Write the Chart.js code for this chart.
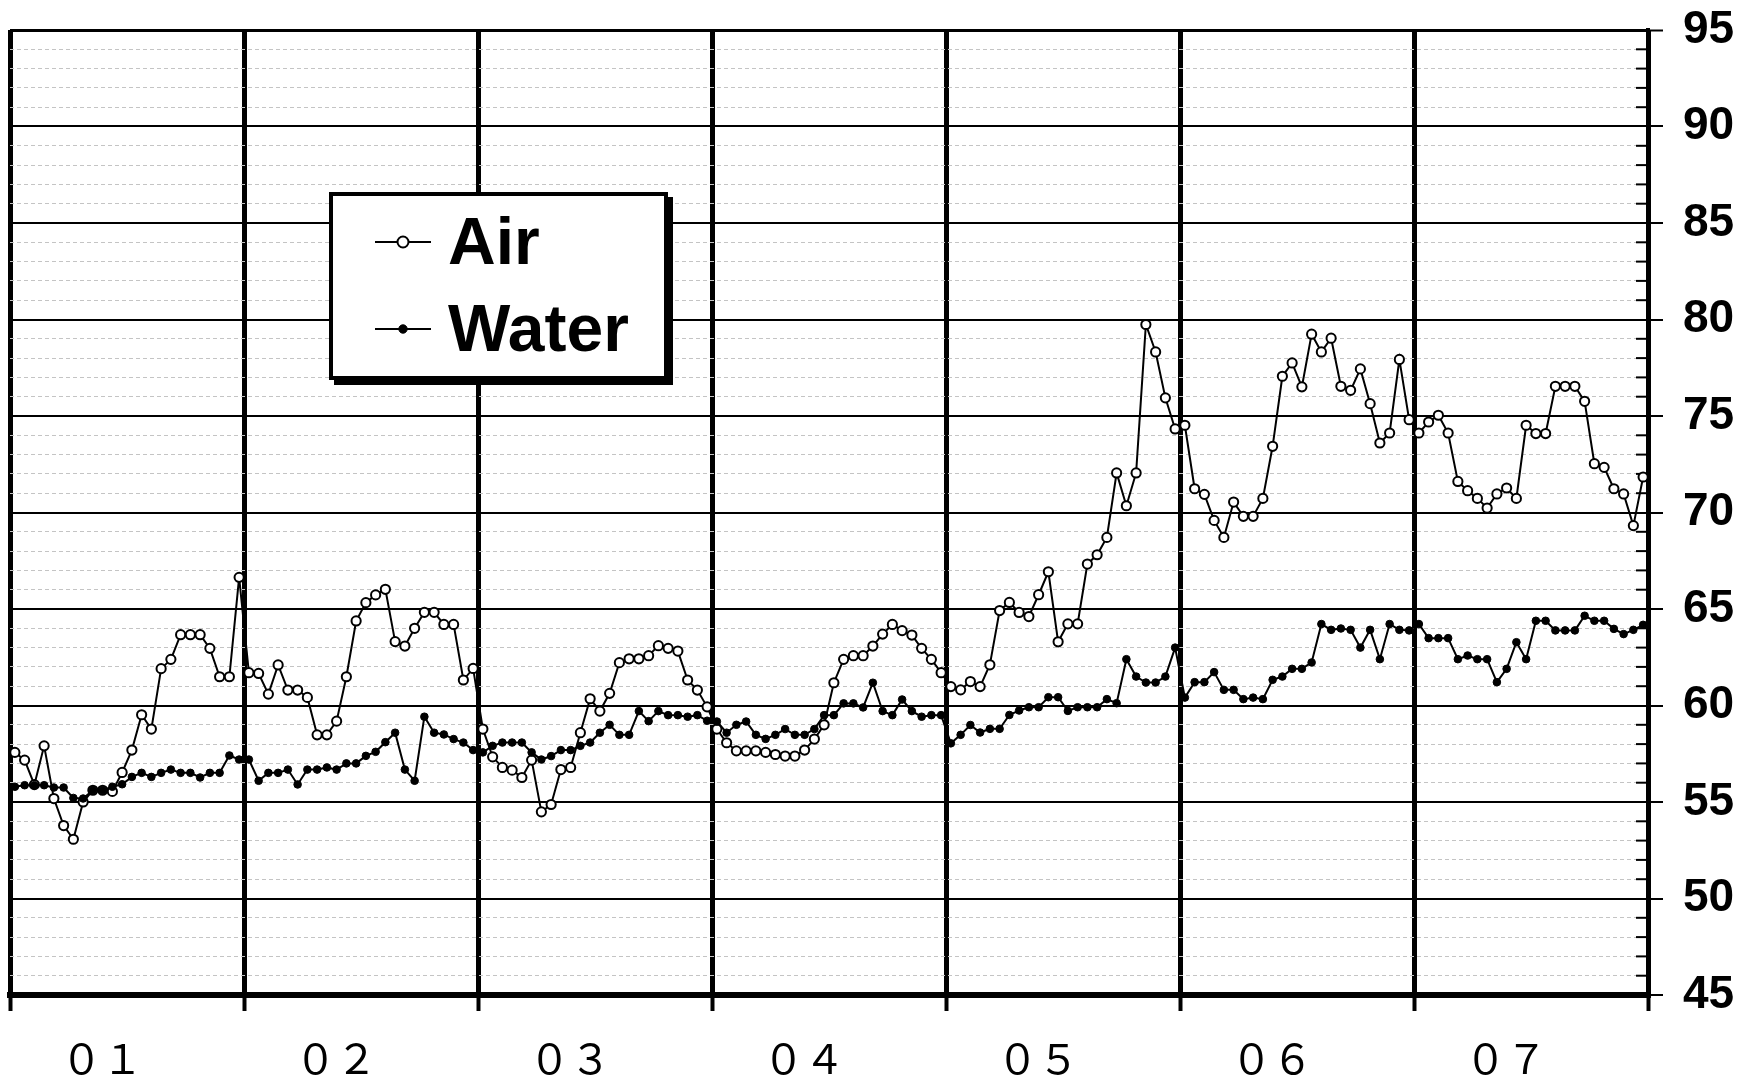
<!DOCTYPE html>
<html>
<head>
<meta charset="utf-8">
<script src="https://cdn.jsdelivr.net/npm/chart.js@4/dist/chart.umd.min.js"></script>
<style>
  html, body { margin: 0; padding: 0; background: #fff; }
  canvas { display: block; }
</style>
</head>
<body>
<canvas id="c" width="1746" height="1078"></canvas>
<script>
// ---- data ----
const monthLabels = ['０１', '０２', '０３', '０４', '０５', '０６', '０７'];
const pointsPerMonth = 24;
const seriesNames = ['Air', 'Water'];

const airTemp = [
  57.57, 57.17, 55.90, 57.91, 55.18, 53.78, 53.07, 55.00, 55.61, 55.61, 55.55, 56.53,
  57.69, 59.52, 58.78, 61.91, 62.39, 63.67, 63.67, 63.67, 62.96, 61.49, 61.49, 66.64,
  61.70, 61.66, 60.59, 62.10, 60.80, 60.80, 60.42, 58.48, 58.48, 59.19, 61.49, 64.38,
  65.33, 65.73, 66.02, 63.31, 63.08, 64.00, 64.83, 64.83, 64.20, 64.20, 61.32, 61.92,
  58.78, 57.34, 56.79, 56.65, 56.27, 57.17, 54.49, 54.87, 56.68, 56.79, 58.59, 60.35,
  59.71, 60.63, 62.22, 62.42, 62.42, 62.58, 63.10, 62.96, 62.82, 61.32, 60.80, 59.93,
  58.78, 58.07, 57.65, 57.65, 57.65, 57.57, 57.46, 57.38, 57.38, 57.69, 58.26, 59.00,
  61.18, 62.39, 62.58, 62.58, 63.08, 63.70, 64.20, 63.88, 63.65, 62.96, 62.39, 61.70,
  60.98, 60.81, 61.24, 60.98, 62.11, 64.92, 65.34, 64.82, 64.61, 65.74, 66.93, 63.30,
  64.23, 64.23, 67.33, 67.81, 68.71, 72.05, 70.35, 72.05, 79.74, 78.32, 75.94, 74.33,
  74.52, 71.23, 70.94, 69.59, 68.71, 70.54, 69.80, 69.80, 70.73, 73.43, 77.06, 77.75,
  76.51, 79.24, 78.32, 79.03, 76.54, 76.33, 77.44, 75.64, 73.60, 74.12, 77.93, 74.81,
  74.12, 74.69, 75.04, 74.12, 71.61, 71.13, 70.73, 70.23, 70.96, 71.27, 70.73, 74.52,
  74.09, 74.09, 76.54, 76.54, 76.54, 75.76, 72.53, 72.34, 71.23, 70.96, 69.32, 71.84
];

const waterTemp = [
  55.79, 55.87, 55.87, 55.87, 55.75, 55.75, 55.21, 55.18, 55.61, 55.61, 55.79, 55.92,
  56.30, 56.51, 56.30, 56.51, 56.68, 56.51, 56.51, 56.27, 56.51, 56.51, 57.41, 57.20,
  57.20, 56.10, 56.51, 56.51, 56.68, 55.91, 56.68, 56.68, 56.79, 56.68, 57.00, 57.00,
  57.39, 57.60, 58.10, 58.59, 56.68, 56.10, 59.42, 58.59, 58.50, 58.26, 58.08, 57.69,
  57.57, 57.91, 58.08, 58.08, 58.08, 57.57, 57.20, 57.38, 57.69, 57.69, 57.91, 58.08,
  58.59, 59.00, 58.48, 58.48, 59.71, 59.19, 59.71, 59.50, 59.50, 59.42, 59.50, 59.21,
  59.17, 58.59, 59.00, 59.17, 58.48, 58.27, 58.48, 58.78, 58.48, 58.48, 58.78, 59.50,
  59.50, 60.11, 60.11, 59.90, 61.18, 59.71, 59.50, 60.31, 59.71, 59.42, 59.50, 59.50,
  58.04, 58.48, 58.99, 58.60, 58.79, 58.79, 59.51, 59.74, 59.91, 59.91, 60.43, 60.43,
  59.72, 59.91, 59.91, 59.91, 60.33, 60.12, 62.40, 61.50, 61.19, 61.19, 61.50, 63.00,
  60.41, 61.21, 61.21, 61.73, 60.81, 60.81, 60.33, 60.41, 60.33, 61.33, 61.50, 61.90,
  61.90, 62.23, 64.22, 63.92, 63.99, 63.92, 63.00, 63.92, 62.40, 64.22, 63.92, 63.89,
  64.22, 63.49, 63.49, 63.49, 62.40, 62.59, 62.40, 62.40, 61.21, 61.90, 63.28, 62.40,
  64.39, 64.39, 63.89, 63.89, 63.89, 64.65, 64.39, 64.39, 63.97, 63.70, 63.92, 64.18
];

const yMin = 45, yMax = 95, yMajorStep = 5, yMinorStep = 1;

// ---- build library structures ----
const totalPoints = monthLabels.length * pointsPerMonth;
const toXY = arr => arr.map((v, i) => ({ x: i + 0.5, y: v }));
const isMajor = ctx => ctx.tick && Math.round(ctx.tick.value) % yMajorStep === 0;

// legend drawn in a framed, shadowed box inside the plot
const boxLegend = {
  id: 'boxLegend',
  afterDraw(chart) {
    const c = chart.ctx;
    const box = { x: 331, y: 194, w: 335, h: 184 };
    const rows = [242, 329];
    c.save();
    c.fillStyle = '#000';
    c.fillRect(box.x - 2 + 5, box.y - 2 + 5, box.w + 4, box.h + 4);
    c.fillStyle = '#fff';
    c.fillRect(box.x, box.y, box.w, box.h);
    c.lineWidth = 4;
    c.strokeStyle = '#000';
    c.strokeRect(box.x, box.y, box.w, box.h);
    chart.data.datasets.forEach((ds, i) => {
      const y = rows[i];
      c.beginPath();
      c.lineWidth = 2;
      c.strokeStyle = '#000';
      c.moveTo(375, y);
      c.lineTo(431, y);
      c.stroke();
      c.beginPath();
      c.arc(403, y, ds.legendRadius, 0, Math.PI * 2);
      c.fillStyle = ds.pointBackgroundColor;
      c.fill();
      c.lineWidth = ds.pointBorderWidth;
      c.stroke();
      c.fillStyle = '#000';
      c.font = 'bold 66px "Liberation Sans", Arial, sans-serif';
      c.textBaseline = 'alphabetic';
      c.textAlign = 'left';
      c.fillText(ds.label, 448, y + 22);
    });
    c.restore();
  }
};

// small inward tick marks on the right axis at every minor step
const minorTicks = {
  id: 'minorTicks',
  beforeDatasetsDraw(chart) {
    const ys = chart.scales.y, area = chart.chartArea, c = chart.ctx;
    c.save();
    c.strokeStyle = '#000';
    c.lineWidth = 2;
    ys.ticks.forEach(t => {
      if (Math.round(t.value) % yMajorStep !== 0) {
        const p = ys.getPixelForValue(t.value);
        c.beginPath();
        c.moveTo(area.right - 12, p);
        c.lineTo(area.right, p);
        c.stroke();
      }
    });
    c.restore();
  }
};

new Chart(document.getElementById('c'), {
  type: 'line',
  data: {
    datasets: [
      {
        label: seriesNames[0],
        data: toXY(airTemp),
        borderColor: '#000',
        borderWidth: 2,
        pointRadius: 4.6,
        pointBorderWidth: 2,
        pointBackgroundColor: '#fff',
        pointBorderColor: '#000',
        legendRadius: 5.5,
        tension: 0,
        order: 1,
        clip: 6
      },
      {
        label: seriesNames[1],
        data: toXY(waterTemp),
        borderColor: '#000',
        borderWidth: 2,
        pointRadius: 3.8,
        pointBorderWidth: 1,
        pointBackgroundColor: '#000',
        pointBorderColor: '#000',
        legendRadius: 4.2,
        tension: 0,
        order: 0,
        clip: 6
      }
    ]
  },
  options: {
    responsive: false,
    animation: false,
    devicePixelRatio: 1,
    layout: { padding: { left: 10, top: 30, right: 0, bottom: 0 } },
    plugins: { legend: { display: false }, tooltip: { enabled: false } },
    scales: {
      x: {
        type: 'linear',
        min: 0,
        max: totalPoints,
        afterFit: s => { s.height = 83; s.paddingLeft = 0; s.paddingRight = 0; },
        ticks: {
          stepSize: pointsPerMonth,
          autoSkip: false,
          maxRotation: 0,
          labelOffset: 92,
          padding: 23,
          color: '#000',
          font: { family: '"Noto Sans CJK JP", sans-serif', size: 41 },
          callback: v => monthLabels[Math.round(v / pointsPerMonth)] || ''
        },
        grid: {
          color: '#000',
          lineWidth: 5,
          tickLength: 16,
          tickWidth: 4,
          tickColor: '#000'
        },
        border: { color: '#000', width: 6 }
      },
      y: {
        position: 'right',
        min: yMin,
        max: yMax,
        afterFit: s => { s.width = 98; s.paddingTop = 0; s.paddingBottom = 0; },
        ticks: {
          stepSize: yMinorStep,
          autoSkip: false,
          padding: 20,
          color: '#000',
          font: { family: '"Liberation Sans", Arial, sans-serif', size: 46, weight: 'bold' },
          callback: v => (Math.round(v) % yMajorStep === 0 ? String(v) : '')
        },
        grid: {
          color: ctx => isMajor(ctx) ? '#000' : '#c4c4c4',
          lineWidth: ctx => isMajor(ctx) ? (ctx.tick.value === yMax ? 3 : 2) : 1,
          tickLength: 15,
          tickWidth: 2,
          tickColor: ctx => isMajor(ctx) ? '#000' : 'rgba(0,0,0,0)'
        },
        border: {
          color: '#000',
          width: 4,
          dash: ctx => (ctx.tick && !isMajor(ctx)) ? [4, 3] : []
        }
      }
    }
  },
  plugins: [minorTicks, boxLegend]
});
</script>
</body>
</html>
